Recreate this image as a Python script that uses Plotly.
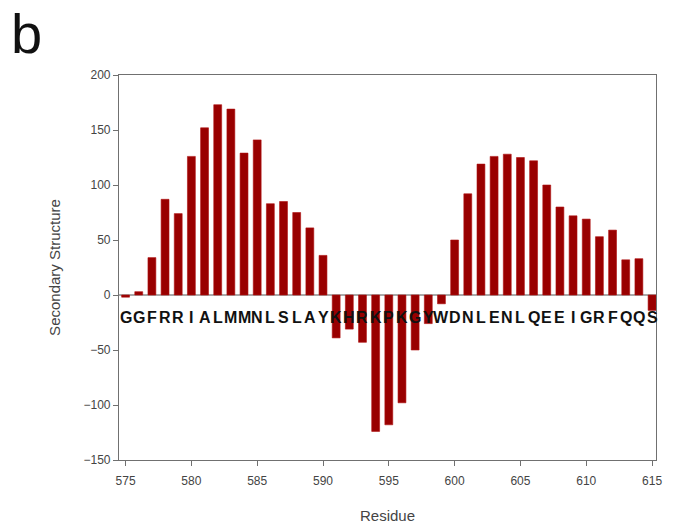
import plotly.graph_objects as go

residues = list(range(575, 616))
sequence = list("GGFRRIALMMNLSLAYKHRKPKGYWDNLENLQEEIGRFQQS")
values = [-2, 3, 34, 87, 74, 126, 152, 173, 169, 129, 141, 83, 85, 75, 61, 36,
          -39, -31, -43, -124, -118, -98, -50, -26, -8,
          50, 92, 119, 126, 128, 125, 122, 100, 80, 72, 69, 53, 59, 32, 33, -14]
y_ticks = [-150, -100, -50, 0, 50, 100, 150, 200]
x_ticks = [575, 580, 585, 590, 595, 600, 605, 610, 615]
letter_y = -20

fig = go.Figure()
fig.add_trace(go.Bar(
    x=residues, y=values, width=0.6,
    marker=dict(color="#990000", line=dict(color="#b01010", width=0.6)),
    showlegend=False,
))

for r, aa in zip(residues, sequence):
    fig.add_annotation(x=r, y=letter_y, text=f"<b>{aa}</b>", showarrow=False,
                       font=dict(family="Liberation Sans, Arial", size=16, color="#111111"),
                       xanchor="center", yanchor="middle")

fig.add_annotation(xref="paper", yref="paper", x=-0.205, y=1.02, text="b",
                   showarrow=False, xanchor="left", yanchor="bottom",
                   font=dict(family="Liberation Sans, Arial", size=56, color="#111111"))

fig.add_annotation(xref="paper", yref="paper", x=0.5, y=-0.143, text="Residue",
                   showarrow=False, xanchor="center", yanchor="middle",
                   font=dict(family="Liberation Sans, Arial", size=15, color="#444444"))

axis_common = dict(showline=True, linecolor="#707070", linewidth=1.2, mirror=True,
                   ticks="outside", ticklen=5, tickcolor="#707070", tickwidth=1.2,
                   showgrid=False, zeroline=False, automargin=False,
                   tickfont=dict(family="Liberation Sans, Arial", size=12, color="#444444"),
                   title_font=dict(family="Liberation Sans, Arial", size=15, color="#444444"))

fig.update_xaxes(range=[574.5, 615.3], tickvals=x_ticks,
                 ticklabelstandoff=4, **axis_common)
fig.update_yaxes(range=[-150, 200], tickvals=y_ticks, title_text="Secondary Structure",
                 title_standoff=19, **axis_common)

fig.add_shape(type="line", xref="paper", x0=0, x1=1, yref="y", y0=0, y1=0,
              line=dict(color="#555555", width=1), layer="below")

fig.update_layout(width=666, height=519, margin=dict(l=111, r=18, t=67, b=67),
                  plot_bgcolor="white", paper_bgcolor="white", bargap=0.4)

fig.write_html("out.html")
